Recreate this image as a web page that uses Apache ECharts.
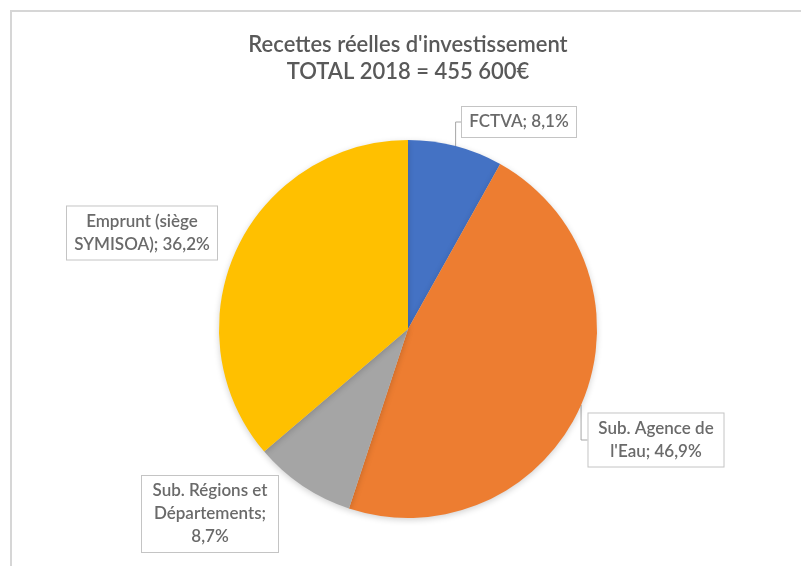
<!DOCTYPE html>
<html>
<head>
<meta charset="utf-8">
<script src="https://cdn.jsdelivr.net/npm/echarts@6/dist/echarts.min.js"></script>
<style>
html,body{margin:0;padding:0;background:#fff;}
#chart{width:801px;height:566px;}
</style>
</head>
<body>
<div id="chart"></div>
<script>
var titleText = "Recettes réelles d'investissement";
var subtitleText = "TOTAL 2018 = 455 600€";
var categories = ["FCTVA", "Sub. Agence de l'Eau", "Sub. Régions et Départements", "Emprunt (siège SYMISOA)"];
// category names as wrapped inside the label boxes of the original
var labelNames = ["FCTVA;", "Sub. Agence de\nl'Eau;", "Sub. Régions et\nDépartements;\n", "Emprunt (siège\nSYMISOA);"];
var percentValues = [8.1, 46.9, 8.7, 36.2];
var sliceColors = ["#4472C4", "#ED7D31", "#A5A5A5", "#FFC000"];

// label box placement (centre of each box) and widths
var labelBoxes = [
  {x: 519, y: 122, w: 104, line: true},
  {x: 656, y: 440, w: 125, line: true},
  {x: 210, y: 514, w: 126, line: false},
  {x: 142, y: 233, w: 140, line: false}
];

var chart = echarts.init(document.getElementById('chart'), null, {renderer: 'canvas'});
var fontFam = 'Lato, "Open Sans", sans-serif';

var data = categories.map(function (c, i) {
  return {
    name: c,
    value: percentValues[i],
    itemStyle: {color: sliceColors[i]},
    label: {width: labelBoxes[i].w},
    labelLine: {show: labelBoxes[i].line}
  };
});

chart.setOption({
  animation: false,
  backgroundColor: '#ffffff',
  title: {
    text: titleText + '\n' + subtitleText,
    left: 403,
    top: 26,
    textAlign: 'center',
    textStyle: {
      fontFamily: fontFam,
      fontSize: 22,
      fontWeight: 600,
      color: '#595959',
      lineHeight: 27
    }
  },
  graphic: [{
    type: 'polyline',
    shape: {points: [[11, 566], [11, 11], [801, 11]]},
    style: {stroke: '#d6d6d6', lineWidth: 2, fill: null},
    silent: true
  }],
  series: [{
    type: 'pie',
    center: [408, 329],
    radius: [0, 189],
    startAngle: 90,
    clockwise: true,
    data: data,
    itemStyle: {
      borderWidth: 0,
      shadowBlur: 6,
      shadowColor: 'rgba(0,0,0,0.18)',
      shadowOffsetY: 2
    },
    label: {
      show: true,
      position: 'outside',
      formatter: function (p) {
        var n = labelNames[p.dataIndex];
        var sep = n.charAt(n.length - 1) === '\n' ? '' : ' ';
        return n + sep + p.value.toFixed(1).replace('.', ',') + '%';
      },
      overflow: 'none',
      fontFamily: fontFam,
      fontSize: 17,
      fontWeight: 600,
      lineHeight: 23,
      color: '#6a6a6a',
      align: 'center',
      backgroundColor: '#ffffff',
      borderColor: '#c4c4c4',
      borderWidth: 1,
      padding: [4, 5, 3, 5]
    },
    labelLine: {
      show: true,
      lineStyle: {color: '#a6a6a6', width: 1}
    },
    labelLayout: function (params) {
      var b = labelBoxes[params.dataIndex];
      return {x: b.x, y: b.y, align: 'center', verticalAlign: 'middle'};
    }
  }]
});
</script>
</body>
</html>
